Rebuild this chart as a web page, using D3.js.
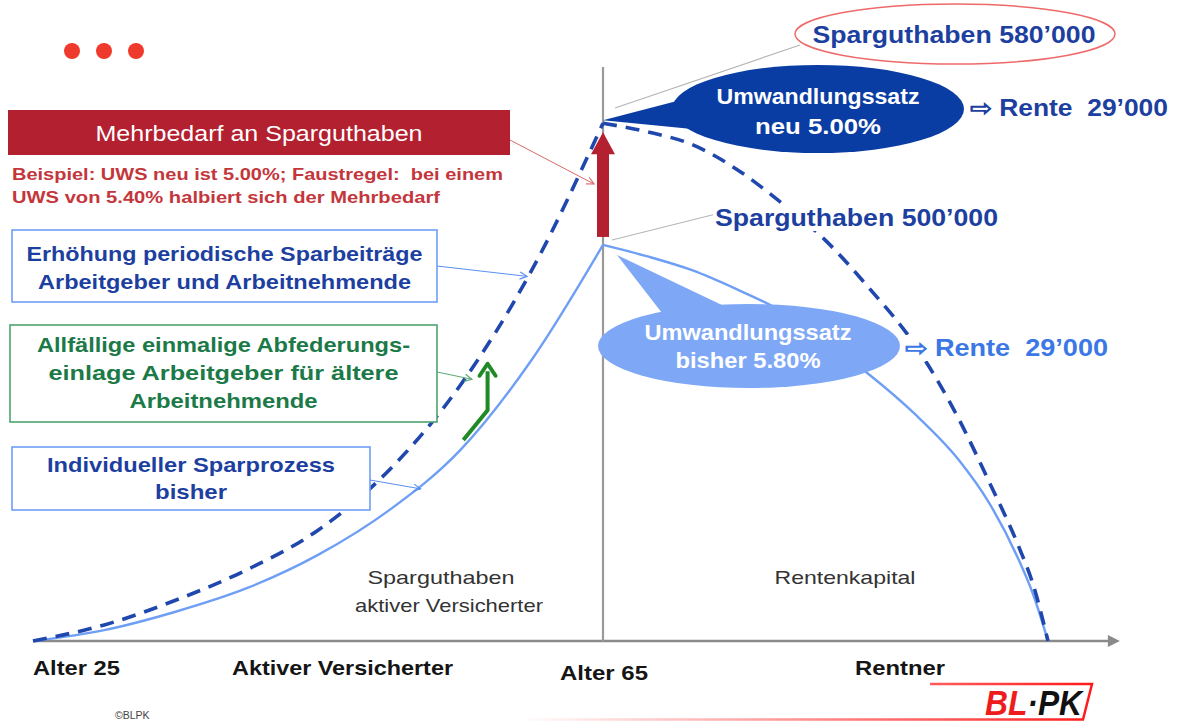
<!DOCTYPE html>
<html>
<head>
<meta charset="utf-8">
<script src="https://cdn.jsdelivr.net/npm/d3@7"></script>
<style>
  html, body { margin: 0; padding: 0; background: #fff; }
  svg { display: block; }
  text { font-family: "Liberation Sans", Arial, sans-serif; white-space: pre; }
</style>
</head>
<body>
<svg id="chart" width="1180" height="722"></svg>
<script>
// ---------- data (schematic capital index) ----------
const ageAcc    = [25, 30, 35, 40, 45, 50, 55, 60, 65];
const solidAcc  = [0, 1.9, 5.1, 9.2, 15.0, 22.8, 33.3, 49.0, 69.0];   // Individueller Sparprozess bisher
const dashedAcc = [0, 2.8, 7.1, 12.4, 19.3, 29.8, 44.6, 64.6, 90.2];  // mit Mehrbedarf
const ageRet    = [65, 68, 71, 74, 77, 80, 83, 86, 89, 91, 93, 94, 95];
const solidRet  = [69.0, 67.0, 64.6, 61.3, 57.5, 52.0, 46.3, 39.6, 31.5, 24.2, 14.3, 8.1, 0];
const dashedRet = [90.2, 88.7, 86.5, 82.2, 76.4, 69.8, 61.3, 51.7, 38.6, 27.9, 16.6, 9.8, 0];

const axisLabels = ["Alter 25", "Aktiver Versicherter", "Alter 65", "Rentner"];
const capitalNew = "Sparguthaben 580\u2019000";
const capitalOld = "Sparguthaben 500\u2019000";
const renteText  = "\u21E8 Rente  29\u2019000";
const uwsNew = ["Umwandlungssatz", "neu 5.00%"];
const uwsOld = ["Umwandlungssatz", "bisher 5.80%"];

// ---------- setup ----------
const svg = d3.select("#chart");
const x = d3.scaleLinear().domain([25, 65, 95]).range([33, 603, 1048]);
const y = d3.scaleLinear().domain([0, 100]).range([641, 67]);

const FONT = '"Liberation Sans", Arial, sans-serif';
const DARK = "#1d3f9f", LIGHTLINE = "#6f9ff5", DASH = "#1f47ad";

// text helper: size + fitted width
function txt(parent, tx, ty, s, o) {
  const t = parent.append("text").attr("x", tx).attr("y", ty).text(s)
    .attr("font-family", FONT).attr("font-size", o.size)
    .attr("font-weight", o.bold ? "bold" : "normal")
    .attr("fill", o.fill).attr("text-anchor", o.anchor || "start");
  if (o.italic) t.attr("font-style", "italic");
  if (o.w) t.attr("textLength", o.w).attr("lengthAdjust", "spacingAndGlyphs");
  return t;
}

const defs = svg.append("defs");
function marker(id, color) {
  defs.append("marker").attr("id", id).attr("viewBox", "0 0 10 10")
    .attr("refX", 9).attr("refY", 5).attr("markerWidth", 9).attr("markerHeight", 9)
    .attr("orient", "auto").attr("markerUnits", "userSpaceOnUse")
    .append("path").attr("d", "M1,1 L9,5 L1,9").attr("fill", "none")
    .attr("stroke", color).attr("stroke-width", 1.3);
}
marker("mRed", "#d96a6a"); marker("mBlue", "#5b8ff0"); marker("mGreen", "#5aa877");
defs.append("marker").attr("id", "mAxis").attr("viewBox", "0 0 10 10")
  .attr("refX", 2).attr("refY", 5).attr("markerWidth", 14).attr("markerHeight", 12)
  .attr("orient", "auto").attr("markerUnits", "userSpaceOnUse")
  .append("path").attr("d", "M0,0 L10,5 L0,10 Z").attr("fill", "#8a8a8a");
const grad = defs.append("linearGradient").attr("id", "gLogo").attr("x1", "0").attr("x2", "1");
grad.append("stop").attr("offset", "0").attr("stop-color", "#ff2020").attr("stop-opacity", 0);
grad.append("stop").attr("offset", "1").attr("stop-color", "#ff1a1a").attr("stop-opacity", 1);

// ---------- top decoration ----------
svg.selectAll("circle.dot").data([72, 104, 136]).join("circle")
  .attr("cx", d => d).attr("cy", 51).attr("r", 8).attr("fill", "#ee3a2c");

// ---------- axes ----------
svg.append("line").attr("x1", x(25)).attr("x2", x(99.2)).attr("y1", y(0)).attr("y2", y(0))
  .attr("stroke", "#8a8a8a").attr("stroke-width", 2.5).attr("marker-end", "url(#mAxis)");
svg.append("line").attr("x1", x(65)).attr("x2", x(65)).attr("y1", y(0)).attr("y2", y(100))
  .attr("stroke", "#9a9a9a").attr("stroke-width", 2.2);

// ---------- curves ----------
const line = d3.line().x(d => x(d[0])).y(d => y(d[1])).curve(d3.curveMonotoneX);
const zip = (a, b) => a.map((v, i) => [v, b[i]]);

[zip(ageAcc, solidAcc), zip(ageRet, solidRet)].forEach(d =>
  svg.append("path").attr("d", line(d)).attr("fill", "none")
    .attr("stroke", LIGHTLINE).attr("stroke-width", 2.4));
[zip(ageAcc, dashedAcc), zip(ageRet, dashedRet)].forEach(d =>
  svg.append("path").attr("d", line(d)).attr("fill", "none")
    .attr("stroke", DASH).attr("stroke-width", 3.6).attr("stroke-dasharray", "14,9"));

// ---------- central text areas ----------
txt(svg, 441, 584, "Sparguthaben", {size: 19, fill: "#333", anchor: "middle", w: 147});
txt(svg, 449, 612, "aktiver Versicherter", {size: 19, fill: "#333", anchor: "middle", w: 188});
txt(svg, 845, 584, "Rentenkapital", {size: 19, fill: "#333", anchor: "middle", w: 141});

// ---------- axis labels ----------
const axOpt = {size: 21, bold: true, fill: "#151515"};
txt(svg, x(25), 675, axisLabels[0], {...axOpt, w: 87});
txt(svg, 232, 675, axisLabels[1], {...axOpt, w: 221});
txt(svg, 560, 680, axisLabels[2], {...axOpt, w: 88});
txt(svg, 855, 675, axisLabels[3], {...axOpt, w: 90});

// ---------- left annotation boxes ----------
svg.append("rect").attr("x", 8).attr("y", 110).attr("width", 502).attr("height", 45).attr("fill", "#b3202f");
txt(svg, 259, 141, "Mehrbedarf an Sparguthaben", {size: 22, fill: "#fff", anchor: "middle", w: 327});
svg.append("line").attr("x1", 510).attr("y1", 140).attr("x2", x(65) - 9).attr("y2", 184)
  .attr("stroke", "#d96a6a").attr("stroke-width", 1).attr("marker-end", "url(#mRed)");
const redOpt = {size: 17, bold: true, fill: "#c4363b"};
txt(svg, 12, 180, "Beispiel: UWS neu ist 5.00%; Faustregel:  bei einem", {...redOpt, w: 491});
txt(svg, 12, 203, "UWS von 5.40% halbiert sich der Mehrbedarf", {...redOpt, w: 428});

function box(bx, by, bw, bh, stroke, color, lines, widths, y0, dy) {
  svg.append("rect").attr("x", bx).attr("y", by).attr("width", bw).attr("height", bh)
    .attr("fill", "#fff").attr("stroke", stroke).attr("stroke-width", 1.6);
  lines.forEach((l, i) => txt(svg, bx + bw / 2, y0 + i * dy, l,
    {size: 21, bold: true, fill: color, anchor: "middle", w: widths[i]}));
}
box(12, 230, 425, 72, "#6f9ff5", DARK, ["Erhöhung periodische Sparbeiträge", "Arbeitgeber und Arbeitnehmende"], [396, 373], 261, 28);
svg.append("line").attr("x1", 437).attr("y1", 266).attr("x2", x(59.6) + 1).attr("y2", y(63) - 3)
  .attr("stroke", "#5b8ff0").attr("stroke-width", 1).attr("marker-end", "url(#mBlue)");

box(10, 325, 427, 97, "#4ea36f", "#1b7a47", ["Allfällige einmalige Abfederungs-", "einlage Arbeitgeber für ältere", "Arbeitnehmende"], [373, 350, 188], 352, 28);
svg.append("line").attr("x1", 437).attr("y1", 372).attr("x2", x(55.8)).attr("y2", y(45.6))
  .attr("stroke", "#5aa877").attr("stroke-width", 1).attr("marker-end", "url(#mGreen)");

box(12, 447, 358, 63, "#6f9ff5", DARK, ["Individueller Sparprozess", "bisher"], [288, 72], 472, 27);
svg.append("line").attr("x1", 370).attr("y1", 480).attr("x2", x(52.2)).attr("y2", y(26.5))
  .attr("stroke", "#5b8ff0").attr("stroke-width", 1).attr("marker-end", "url(#mBlue)");

// green step arrow (Abfederungseinlage)
const gPts = [[55.2, 35.0], [56.9, 40.2], [56.9, 47.0]];
svg.append("path").attr("d", d3.line().x(d => x(d[0])).y(d => y(d[1]))(gPts))
  .attr("fill", "none").attr("stroke", "#1f8a26").attr("stroke-width", 4).attr("stroke-linejoin", "round");
const gx = x(56.9), gy = y(48.3);
svg.append("path").attr("d", `M${gx - 8},${gy + 12} L${gx},${gy} L${gx + 8},${gy + 12}`)
  .attr("fill", "none").attr("stroke", "#1f8a26").attr("stroke-width", 4).attr("stroke-linecap", "round").attr("stroke-linejoin", "round");

// ---------- red Mehrbedarf arrow ----------
const rx = x(65), rTop = y(dashedAcc[dashedAcc.length - 1]) + 9, rBot = y(solidAcc[solidAcc.length - 1]) - 8;
svg.append("rect").attr("x", rx - 6).attr("y", rTop + 20).attr("width", 12).attr("height", rBot - rTop - 20).attr("fill", "#b3202f");
svg.append("path").attr("d", `M${rx - 12},${rTop + 22} L${rx},${rTop} L${rx + 12},${rTop + 22} Z`).attr("fill", "#b3202f");

// ---------- right side annotations ----------
svg.append("line").attr("x1", x(65) + 12).attr("y1", 108).attr("x2", 800).attr("y2", 45).attr("stroke", "#b5b5b5").attr("stroke-width", 1.2);
svg.append("line").attr("x1", x(65) + 9).attr("y1", 240).attr("x2", 716).attr("y2", 214).attr("stroke", "#b5b5b5").attr("stroke-width", 1.2);

// red ellipse with 580'000
svg.append("ellipse").attr("cx", 955).attr("cy", 34).attr("rx", 160).attr("ry", 30)
  .attr("fill", "#fff").attr("stroke", "#ee6a6a").attr("stroke-width", 1.5);
txt(svg, 954, 43, capitalNew, {size: 24, bold: true, fill: DARK, anchor: "middle", w: 283});

// dark callout
const tipN = [x(65), y(dashedAcc[dashedAcc.length - 1]) - 3];
svg.append("path").attr("d", `M${tipN[0]},${tipN[1]} L677,101 L692,129 Z`).attr("fill", "#0a3da3");
svg.append("ellipse").attr("cx", 818).attr("cy", 109).attr("rx", 146).attr("ry", 44).attr("fill", "#0a3da3");
txt(svg, 818, 104, uwsNew[0], {size: 22, bold: true, fill: "#fff", anchor: "middle", w: 203});
txt(svg, 818, 134, uwsNew[1], {size: 22, bold: true, fill: "#fff", anchor: "middle", w: 126});

function labelBg(tx, ty, s, color, size, w) {
  const g = svg.append("g");
  const r = g.append("rect").attr("fill", "#fff");
  const t = txt(g, tx, ty, s, {size: size, bold: true, fill: color, w: w});
  const b = t.node().getBBox();
  r.attr("x", b.x - 2).attr("y", b.y).attr("width", b.width + 4).attr("height", b.height);
}
labelBg(970, 116, renteText, DARK, 23, 198);
labelBg(715, 226, capitalOld, DARK, 24, 283);

// light callout
svg.append("path").attr("d", `M617,${y(solidAcc[solidAcc.length - 1]) + 10} L662,313 L724,306 Z`).attr("fill", "#7ea8f6");
svg.append("ellipse").attr("cx", 749).attr("cy", 346).attr("rx", 151).attr("ry", 42).attr("fill", "#7ea8f6");
txt(svg, 748, 340, uwsOld[0], {size: 22, bold: true, fill: "#fff", anchor: "middle", w: 207});
txt(svg, 748, 368, uwsOld[1], {size: 22, bold: true, fill: "#fff", anchor: "middle", w: 145});
labelBg(905, 356, renteText, "#3b78e6", 23, 203);

// ---------- footer ----------
txt(svg, 115, 719, "\u00A9BLPK", {size: 10.5, fill: "#444"});
svg.append("path").attr("d", "M520,719.5 L1083,719.5 L1092,684 L930,684")
  .attr("fill", "none").attr("stroke", "url(#gLogo)").attr("stroke-width", 2.5);
const logo = svg.append("text").attr("x", 985).attr("y", 715).attr("font-family", FONT)
  .attr("font-size", 35).attr("font-weight", "bold").attr("font-style", "italic")
  .attr("textLength", 97).attr("lengthAdjust", "spacingAndGlyphs");
logo.append("tspan").attr("fill", "#ee1c1c").text("BL");
logo.append("tspan").attr("fill", "#111").text("\u00B7PK");
</script>
</body>
</html>
